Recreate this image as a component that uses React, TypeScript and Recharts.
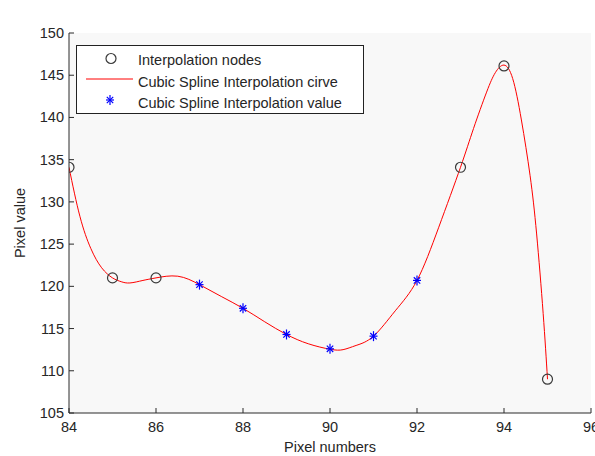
import React from 'react';
import { ComposedChart, Line, Scatter, XAxis, YAxis, CartesianGrid, Legend } from 'recharts';

const title = 'Cubic Spline Interpolation';
const xLabel = 'Pixel numbers';
const yLabel = 'Pixel value';
const legendLabels = ['Interpolation nodes', 'Cubic Spline Interpolation cirve', 'Cubic Spline Interpolation value'];

const nodeX = [84, 85, 86, 93, 94, 95];
const nodeY = [134.1, 121.0, 121.0, 134.1, 146.1, 109.0];

const starX = [87, 88, 89, 90, 91, 92];
const starY = [120.2, 117.4, 114.3, 112.6, 114.1, 120.7];

const curveX = [84, 84.25, 84.5, 84.75, 85, 85.2, 85.4, 85.7, 86, 86.5, 87, 87.5, 88, 88.5, 89, 89.5, 90, 90.3, 90.6, 91, 91.5, 92, 92.5, 93, 93.3, 93.6, 93.8, 94, 94.2, 94.4, 94.6, 94.75, 94.9, 95];
const curveY = [134.1, 128.3, 124.5, 122.2, 121.0, 120.55, 120.4, 120.7, 121.0, 121.2, 120.2, 118.8, 117.4, 115.8, 114.3, 113.2, 112.55, 112.5, 113.0, 114.1, 117.1, 120.7, 127.0, 134.1, 138.7, 143.0, 145.3, 146.2, 144.6, 139.7, 133.1, 126.2, 116.8, 109.0];

const xTicks = [84, 86, 88, 90, 92, 94, 96];
const yTicks = [105, 110, 115, 120, 125, 130, 135, 140, 145, 150];

const nodes = nodeX.map((x, i) => ({ x, y: nodeY[i] }));
const stars = starX.map((x, i) => ({ x, y: starY[i] }));
const curve = curveX.map((x, i) => ({ x, y: curveY[i] }));

const FONT = '"Liberation Sans", Arial, sans-serif';
const AX = '#2a2a2a';
const TXT = '#262626';
const FS = 14.5;

const Star = ({ cx, cy }: any) => (
  <g stroke="#0000ff" strokeWidth={1.2}>
    <line x1={cx} x2={cx} y1={cy - 5} y2={cy + 5} />
    <line x1={cx - 4} x2={cx + 4} y1={cy} y2={cy} />
    <line x1={cx - 3.2} x2={cx + 3.2} y1={cy - 3.2} y2={cy + 3.2} />
    <line x1={cx - 3.2} x2={cx + 3.2} y1={cy + 3.2} y2={cy - 3.2} />
  </g>
);

const Node = ({ cx, cy }: any) => (
  <circle cx={cx} cy={cy} r={5} fill="none" stroke="#3a3a3a" strokeWidth={1.2} />
);

const BottomTick = ({ x, y, payload }: any) => (
  <g>
    <line x1={x} x2={x} y1={y} y2={y - 5} stroke={AX} />
    <text x={x} y={y + 19} textAnchor="middle" fontSize={FS} fill={TXT} fontFamily={FONT}>{payload.value}</text>
  </g>
);
const TopTick = ({ x, y }: any) => <line x1={x} x2={x} y1={y} y2={y + 5} stroke={AX} />;
const LeftTick = ({ x, y, payload }: any) => (
  <g>
    <line x1={x} x2={x + 5} y1={y} y2={y} stroke={AX} />
    <text x={x - 5} y={y + 5} textAnchor="end" fontSize={FS} fill={TXT} fontFamily={FONT}>{payload.value}</text>
  </g>
);
const RightTick = ({ x, y }: any) => <line x1={x} x2={x - 5} y1={y} y2={y} stroke={AX} />;

const renderLegend = () => (
  <svg width={288} height={69} style={{ display: 'block' }}>
    <rect x={0.5} y={0.5} width={287} height={68} fill="#ffffff" stroke="#222" strokeWidth={1} />
    <Node cx={35} cy={13.5} />
    <line x1={10} x2={57} y1={34} y2={34} stroke="#ff0000" strokeWidth={1} />
    <Star cx={34} cy={55} />
    {legendLabels.map((t, i) => (
      <text key={t} x={62} y={20 + i * 21.6} fontSize={FS} fill={TXT} fontFamily={FONT}>{t}</text>
    ))}
  </svg>
);

export default function App() {
  return (
    <div style={{ position: 'absolute', left: 0, top: 0, width: 595, height: 456, background: '#fff' }}>
      <ComposedChart width={595} height={456} margin={{ top: 33, right: 4, bottom: 0, left: 0 }}>
        <CartesianGrid horizontal={false} vertical={false} fill="#f8f8f8" />
        <XAxis
          dataKey="x"
          type="number"
          domain={[84, 96]}
          ticks={xTicks}
          interval={0}
          allowDataOverflow
          height={43}
          tickSize={0}
          tickMargin={0}
          tickLine={false}
          axisLine={{ stroke: AX }}
          tick={<BottomTick />}
          label={{ value: xLabel, position: 'insideBottom', offset: 4, fontSize: FS, fill: TXT, fontFamily: FONT }}
        />
        <XAxis
          xAxisId="top"
          orientation="top"
          dataKey="x"
          type="number"
          domain={[84, 96]}
          ticks={xTicks}
          interval={0}
          allowDataOverflow
          height={0}
          tickSize={0}
          tickMargin={0}
          tickLine={false}
          axisLine={{ stroke: AX }}
          tick={<TopTick />}
          label={{ value: title, position: 'top', offset: 12, fontSize: FS, fill: TXT, fontFamily: FONT }}
        />
        <YAxis
          dataKey="y"
          type="number"
          domain={[105, 150]}
          ticks={yTicks}
          interval={0}
          allowDataOverflow
          width={69}
          tickSize={0}
          tickMargin={0}
          tickLine={false}
          axisLine={{ stroke: AX }}
          tick={<LeftTick />}
          label={{ value: yLabel, angle: -90, position: 'insideLeft', offset: 20, fontSize: FS, fill: TXT, fontFamily: FONT, style: { textAnchor: 'middle' } }}
        />
        <YAxis
          yAxisId="right"
          orientation="right"
          dataKey="y"
          type="number"
          domain={[105, 150]}
          ticks={yTicks}
          interval={0}
          allowDataOverflow
          width={0}
          tickSize={0}
          tickMargin={0}
          tickLine={false}
          axisLine={{ stroke: AX }}
          tick={<RightTick />}
        />
        <Scatter data={nodes} dataKey="y" shape={(p: any) => <Node cx={p.cx} cy={p.cy} />} isAnimationActive={false} />
        <Line data={curve} dataKey="y" type="natural" stroke="#ff0000" strokeWidth={1} dot={false} activeDot={false} isAnimationActive={false} />
        <Scatter data={stars} dataKey="y" shape={(p: any) => <Star cx={p.cx} cy={p.cy} />} isAnimationActive={false} />
        <Legend
          layout="vertical"
          align="center"
          verticalAlign="middle"
          wrapperStyle={{ left: 76, top: 45, width: 288, height: 69 }}
          content={renderLegend}
        />
      </ComposedChart>
    </div>
  );
}
